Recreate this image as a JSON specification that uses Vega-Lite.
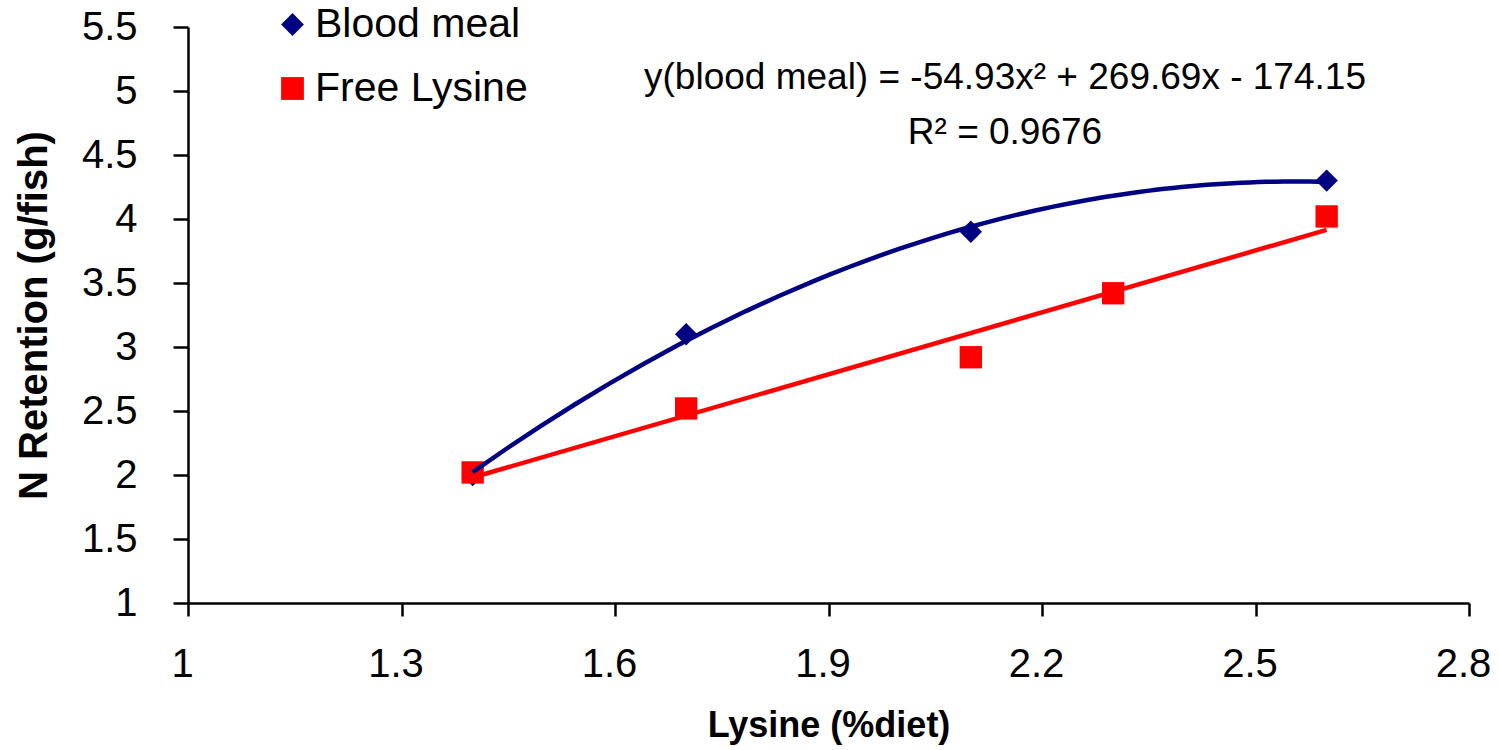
{
  "$schema": "https://vega.github.io/schema/vega-lite/v6.json",
  "width": 1281,
  "height": 576,
  "autosize": {"type": "none"},
  "padding": {"left": 188, "top": 27, "right": 30, "bottom": 147},
  "background": "white",
  "config": {
    "view": {"stroke": null},
    "font": "Liberation Sans",
    "axis": {
      "grid": false,
      "domainColor": "black",
      "domainWidth": 2.5,
      "tickColor": "black",
      "tickWidth": 2.5,
      "labelColor": "black",
      "titleColor": "black",
      "labelFont": "Liberation Sans",
      "titleFont": "Liberation Sans",
      "labelFontSize": 40,
      "titleFontWeight": "bold"
    },
    "legend": {
      "labelFont": "Liberation Sans",
      "labelColor": "black"
    }
  },
  "data": {
    "values": [
      {"series": "Blood meal", "lysine": 1.4, "nret": 2.0},
      {"series": "Blood meal", "lysine": 1.7, "nret": 3.1},
      {"series": "Blood meal", "lysine": 2.1, "nret": 3.9},
      {"series": "Blood meal", "lysine": 2.6, "nret": 4.3},
      {"series": "Free Lysine", "lysine": 1.4, "nret": 2.02},
      {"series": "Free Lysine", "lysine": 1.7, "nret": 2.52},
      {"series": "Free Lysine", "lysine": 2.1, "nret": 2.92},
      {"series": "Free Lysine", "lysine": 2.3, "nret": 3.42},
      {"series": "Free Lysine", "lysine": 2.6, "nret": 4.02}
    ]
  },
  "layer": [
    {
      "mark": {"type": "point", "filled": true, "size": 500, "opacity": 1},
      "encoding": {
        "x": {
          "field": "lysine",
          "type": "quantitative",
          "scale": {"domain": [1, 2.8], "nice": false, "zero": false},
          "axis": {
            "values": [1, 1.3, 1.6, 1.9, 2.2, 2.5, 2.8],
            "format": "~g",
            "title": "Lysine (%diet)",
            "tickSize": 13,
            "labelPadding": 28,
            "labelFlush": false,
            "labelOffset": -6,
            "titleFontSize": 36,
            "titleBaseline": "top",
            "titleY": 105
          }
        },
        "y": {
          "field": "nret",
          "type": "quantitative",
          "scale": {"domain": [1, 5.5], "nice": false, "zero": false},
          "axis": {
            "values": [1, 1.5, 2, 2.5, 3, 3.5, 4, 4.5, 5, 5.5],
            "format": "~g",
            "title": "N Retention (g/fish)",
            "tickSize": 15,
            "labelPadding": 36,
            "labelFlush": false,
            "titleFontSize": 40,
            "titleBaseline": "middle",
            "titleX": -154
          }
        },
        "color": {
          "field": "series",
          "type": "nominal",
          "scale": {"domain": ["Blood meal", "Free Lysine"], "range": ["#000080", "#FF0000"]},
          "legend": {
            "orient": "none",
            "legendX": 84,
            "legendY": -23,
            "title": null,
            "labelFontSize": 41,
            "labelLimit": 500,
            "symbolSize": 520,
            "rowPadding": 22,
            "labelOffset": 2,
            "padding": 0,
            "symbolStrokeWidth": 0
          }
        },
        "shape": {
          "field": "series",
          "type": "nominal",
          "scale": {"domain": ["Blood meal", "Free Lysine"], "range": ["diamond", "square"]},
          "legend": {
            "orient": "none",
            "legendX": 84,
            "legendY": -23,
            "title": null,
            "labelFontSize": 41,
            "labelLimit": 500,
            "symbolSize": 520,
            "rowPadding": 22,
            "labelOffset": 2,
            "padding": 0,
            "symbolStrokeWidth": 0
          }
        }
      }
    },
    {
      "transform": [
        {"filter": "datum.series === 'Free Lysine'"},
        {"regression": "nret", "on": "lysine", "method": "linear"}
      ],
      "mark": {"type": "line", "color": "#FF0000", "strokeWidth": 4.5},
      "encoding": {
        "x": {"field": "lysine", "type": "quantitative"},
        "y": {"field": "nret", "type": "quantitative"}
      }
    },
    {
      "transform": [
        {"filter": "datum.series === 'Blood meal'"},
        {"regression": "nret", "on": "lysine", "method": "poly", "order": 2}
      ],
      "mark": {"type": "line", "color": "#000080", "strokeWidth": 4.5},
      "encoding": {
        "x": {"field": "lysine", "type": "quantitative"},
        "y": {"field": "nret", "type": "quantitative"}
      }
    },
    {
      "data": {"values": [{"label": "y(blood meal) = -54.93x² + 269.69x - 174.15"}]},
      "mark": {"type": "text", "fontSize": 37, "align": "center", "baseline": "middle", "color": "black", "font": "Liberation Sans"},
      "encoding": {
        "x": {"datum": 2.148, "type": "quantitative"},
        "y": {"datum": 5.1, "type": "quantitative"},
        "text": {"field": "label"}
      }
    },
    {
      "data": {"values": [{"label": "R² = 0.9676"}]},
      "mark": {"type": "text", "fontSize": 37, "align": "center", "baseline": "middle", "color": "black", "font": "Liberation Sans"},
      "encoding": {
        "x": {"datum": 2.148, "type": "quantitative"},
        "y": {"datum": 4.672, "type": "quantitative"},
        "text": {"field": "label"}
      }
    }
  ]
}
